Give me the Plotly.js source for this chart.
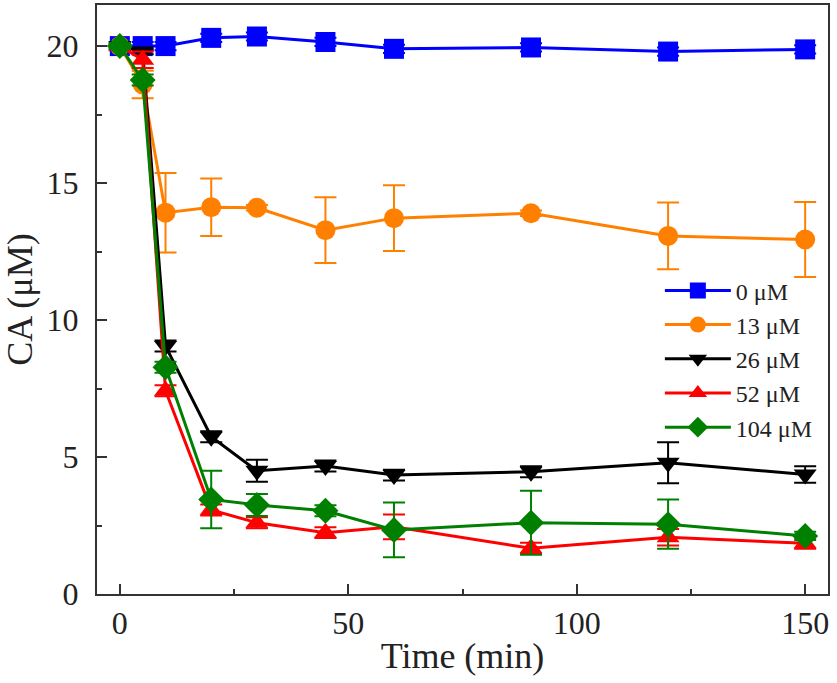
<!DOCTYPE html>
<html>
<head>
<meta charset="utf-8">
<script src="https://cdn.plot.ly/plotly-3.0.1.min.js"></script>
<style>html,body{margin:0;padding:0;background:#fff;}#chart{width:837px;height:683px;}</style>
</head>
<body>
<div id="chart"></div>
<script>
const time = [0, 5, 10, 20, 30, 45, 60, 90, 120, 150];
const seriesNames = ['0 μM', '13 μM', '26 μM', '52 μM', '104 μM'];
const ca0   = [20.0, 20.0, 20.0, 20.3, 20.35, 20.15, 19.9, 19.95, 19.8, 19.88];
const err0  = [0.15, 0.15, 0.15, 0.15, 0.15, 0.15, 0.15, 0.15, 0.15, 0.15];
const ca13  = [20.0, 18.6, 13.92, 14.12, 14.1, 13.28, 13.72, 13.9, 13.07, 12.94];
const err13 = [0.1, 0.5, 1.45, 1.05, 0.1, 1.2, 1.2, 0.1, 1.22, 1.37];
const ca26  = [20.0, 19.8, 9.05, 5.74, 4.5, 4.67, 4.34, 4.46, 4.79, 4.36];
const err26 = [0.1, 0.1, 0.2, 0.2, 0.4, 0.2, 0.2, 0.2, 0.75, 0.3];
const ca52  = [20.0, 19.5, 7.42, 3.07, 2.6, 2.24, 2.45, 1.67, 2.07, 1.85];
const err52 = [0.1, 0.3, 0.2, 0.2, 0.2, 0.2, 0.45, 0.2, 0.3, 0.2];
const ca104  = [20.0, 18.76, 8.28, 3.45, 3.25, 3.04, 2.34, 2.6, 2.55, 2.12];
const err104 = [0.1, 0.2, 0.2, 1.05, 0.4, 0.2, 1.0, 1.17, 0.9, 0.15];

const colors = ['#0000FF', '#FF8000', '#000000', '#FF0000', '#008000'];
const symbols = ['square', 'circle', 'triangle-down', 'triangle-up', 'diamond'];
const ys = [ca0, ca13, ca26, ca52, ca104];
const errs = [err0, err13, err26, err52, err104];

const traces = ys.map((y, i) => ({
  x: time, y: y, name: seriesNames[i], type: 'scatter', mode: 'lines+markers',
  line: {color: colors[i], width: 3},
  marker: {color: colors[i], symbol: symbols[i], size: 20},
  error_y: {type: 'data', array: errs[i], visible: true, color: colors[i], thickness: 2, width: 11}
}));

const serif = 'Liberation Serif, Times New Roman, serif';
const layout = {
  width: 837, height: 683,
  margin: {l: 97, r: 9, t: 5, b: 89},
  paper_bgcolor: '#fff', plot_bgcolor: '#fff',
  font: {family: serif, color: '#222'},
  showlegend: true,
  legend: {x: 0.77, y: 0.553, xanchor: 'left', yanchor: 'top', bgcolor: 'rgba(0,0,0,0)',
           font: {family: serif, size: 24, color: '#222'}, itemwidth: 66},
  xaxis: {
    range: [-5, 155], tickvals: [0, 50, 100, 150], ticks: 'inside', ticklen: 10, tickwidth: 2,
    tickcolor: '#333', showline: true, linecolor: '#333', linewidth: 2, mirror: true,
    showgrid: false, zeroline: false, tickfont: {size: 32, family: serif, color: '#222'},
    minor: {tickvals: [25, 75, 125], ticks: 'inside', ticklen: 5, tickwidth: 2, tickcolor: '#333'},
    title: {text: 'Time (min)', font: {size: 36, family: serif, color: '#222'}, standoff: 2}
  },
  yaxis: {
    range: [0, 21.5], tickvals: [0, 5, 10, 15, 20], ticks: 'inside', ticklen: 10, tickwidth: 2,
    tickcolor: '#333', showline: true, linecolor: '#333', linewidth: 2, mirror: true,
    showgrid: false, zeroline: false, tickfont: {size: 32, family: serif, color: '#222'},
    ticklabelstandoff: 10,
    minor: {tickvals: [2.5, 7.5, 12.5, 17.5], ticks: 'inside', ticklen: 5, tickwidth: 2, tickcolor: '#333'},
    title: {text: 'CA (μM)', font: {size: 36, family: serif, color: '#222'}, standoff: 6}
  }
};
Plotly.newPlot('chart', traces, layout, {staticPlot: true});
</script>
</body>
</html>
